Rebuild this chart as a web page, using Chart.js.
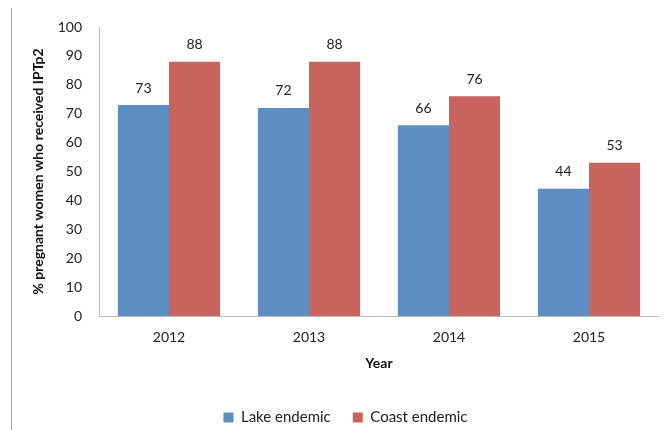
<!DOCTYPE html>
<html>
<head>
<meta charset="utf-8">
<script src="https://cdn.jsdelivr.net/npm/chart.js@4.4.1/dist/chart.umd.min.js"></script>
<style>
  html, body { margin: 0; padding: 0; background: #fff; }
  #wrap { position: relative; width: 666px; height: 430px; }
  #frame { position: absolute; left: 11px; top: 8px; width: 0; height: 422px; border-left: 1px solid #a6a6a6; }
  canvas { position: absolute; left: 0; top: 0; }
</style>
</head>
<body>
<div id="wrap">
  <div id="frame"></div>
  <canvas id="bars" width="666" height="430"></canvas>
</div>
<script>
let years = ["2012", "2013", "2014", "2015"];
let lakeEndemic = [73, 72, 66, 44];
let coastEndemic = [88, 88, 76, 53];
let yTicks = [0, 10, 20, 30, 40, 50, 60, 70, 80, 90, 100];

const fontFam = "Lato, 'Open Sans', sans-serif";

// draws the value above each bar
const valueLabels = {
  id: 'valueLabels',
  afterDatasetsDraw(chart) {
    const ctx = chart.ctx;
    ctx.save();
    ctx.font = "14px " + fontFam;
    ctx.fillStyle = "#222";
    ctx.textAlign = "center";
    ctx.textBaseline = "middle";
    chart.data.datasets.forEach(function(ds, i) {
      chart.getDatasetMeta(i).data.forEach(function(bar, j) {
        ctx.fillText(ds.data[j], bar.x, bar.y - 17);
      });
    });
    ctx.restore();
  }
};

var ctx = document.getElementById("bars").getContext("2d");

new Chart(ctx, {
  type: 'bar',
  data: {
    labels: years,
    datasets: [{
      label: "Lake endemic",
      data: lakeEndemic,
      backgroundColor: '#5E8EC1',
      borderWidth: 0
    }, {
      label: "Coast endemic",
      data: coastEndemic,
      backgroundColor: '#C8635E',
      borderWidth: 0
    }]
  },
  options: {
    responsive: false,
    animation: false,
    layout: { padding: { left: 32, right: 7, top: 27, bottom: -5 } },
    datasets: { bar: { categoryPercentage: 0.73, barPercentage: 1.0 } },
    plugins: {
      tooltip: { enabled: false },
      legend: {
        position: 'bottom',
        labels: {
          boxWidth: 10,
          boxHeight: 10,
          padding: 22,
          color: '#222',
          font: { size: 15, family: fontFam }
        }
      }
    },
    scales: {
      x: {
        afterFit(scale) { scale.height = 72; },
        grid: { display: false, drawTicks: false },
        border: { color: '#bfbfbf', width: 1 },
        ticks: { color: '#222', padding: 13, font: { size: 14, family: fontFam } },
        title: {
          display: true,
          text: 'Year',
          color: '#111',
          padding: { top: 0, bottom: 16 },
          font: { size: 14, weight: 'bold', family: fontFam }
        }
      },
      y: {
        min: 0,
        max: 100,
        afterBuildTicks(scale) {
          scale.ticks = yTicks.map(function(v) { return { value: v }; });
        },
        afterFit(scale) { scale.width = 67; },
        grid: { display: false, drawTicks: false },
        border: { color: '#bfbfbf', width: 1 },
        ticks: { color: '#222', padding: 17, font: { size: 14, family: fontFam } },
        title: {
          display: true,
          text: '% pregnant women who received IPTp2',
          color: '#111',
          padding: { top: -2, bottom: 0 },
          font: { size: 14, weight: 'bold', family: fontFam }
        }
      }
    }
  },
  plugins: [valueLabels]
});
</script>
</body>
</html>
